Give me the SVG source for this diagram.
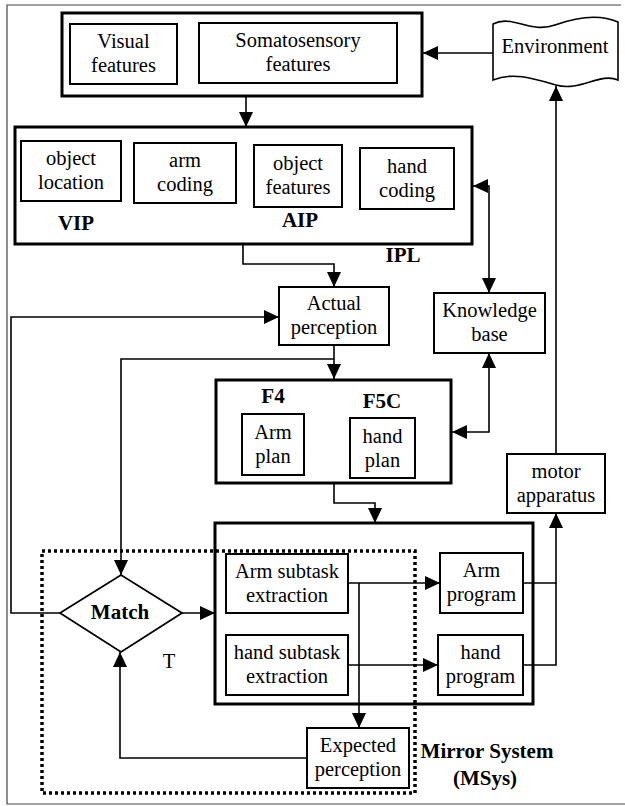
<svg xmlns="http://www.w3.org/2000/svg" width="625" height="806" viewBox="0 0 625 806">
<style>
text{font-family:"Liberation Serif","Times New Roman",serif;font-size:20.5px;fill:#000;text-anchor:middle}
.b{font-weight:bold;font-size:21px}
.thick{fill:#fff;stroke:#000;stroke-width:3}
.box{fill:#fff;stroke:#000;stroke-width:2}
.ln{fill:none;stroke:#000;stroke-width:1.6}
</style>
<defs>
<marker id="ah" markerUnits="userSpaceOnUse" markerWidth="15" markerHeight="14" refX="15" refY="7" orient="auto-start-reverse" viewBox="0 0 15 14">
<path d="M0,0 L15,7 L0,14 z" fill="#000"/>
</marker>
</defs>
<rect width="625" height="806" fill="#fff"/>
<path d="M621,5 H7 V804 H625" fill="none" stroke="#444" stroke-width="1.2"/>

<g id="connectors">
<path class="ln" d="M493,53 H423" marker-end="url(#ah)"/>
<path class="ln" d="M246,96 V127" marker-end="url(#ah)"/>
<path class="ln" d="M556,454 V86" marker-end="url(#ah)"/>
<path class="ln" d="M243,244 V264 H334 V287" marker-end="url(#ah)"/>
<path class="ln" d="M473,186 H489 V293" marker-start="url(#ah)" marker-end="url(#ah)"/>
<path class="ln" d="M60,613 H11 V317 H279" marker-end="url(#ah)"/>
<path class="ln" d="M334,345 V379" marker-end="url(#ah)"/>
<path class="ln" d="M334,359 H121 V575" marker-end="url(#ah)"/>
<path class="ln" d="M489,353 V432 H452" marker-start="url(#ah)" marker-end="url(#ah)"/>
<path class="ln" d="M334,483 V503 H375 V523" marker-end="url(#ah)"/>
<path class="ln" d="M182,613 H215" marker-end="url(#ah)"/>
<path class="ln" d="M348,583 H440" marker-end="url(#ah)"/>
<path class="ln" d="M348,665 H438" marker-end="url(#ah)"/>
<path class="ln" d="M359,583 V728" marker-end="url(#ah)"/>
<path class="ln" d="M523,583 H556 V513" marker-end="url(#ah)"/>
<path class="ln" d="M523,665 H556 V583"/>
<path class="ln" d="M307,758 H120 V652" marker-end="url(#ah)"/>
</g>

<g id="environment">
<path d="M493,24 C512,14 530,34 555,25 S600,14 618,22 V80 C600,72 580,92 556,85 S512,72 493,80 Z" fill="#fff" stroke="#000" stroke-width="1.6"/>
<text x="555" y="53">Environment</text>
</g>

<g id="sensory">
<rect class="thick" x="62" y="13" width="360" height="83"/>
<g id="visual-features">
<rect class="box" x="70" y="24" width="107" height="60"/>
<text x="123.5" y="48">Visual</text>
<text x="123.5" y="72">features</text>
</g>
<g id="somatosensory-features">
<rect class="box" x="199" y="23" width="198" height="60"/>
<text x="298" y="47">Somatosensory</text>
<text x="298" y="71">features</text>
</g>
</g>

<g id="ipl">
<rect class="thick" x="15" y="127" width="457" height="117"/>
<g id="object-location">
<rect class="box" x="21" y="141" width="100" height="60"/>
<text x="71" y="165">object</text>
<text x="71" y="189">location</text>
</g>
<g id="arm-coding">
<rect class="box" x="134" y="143" width="102" height="60"/>
<text x="185" y="167">arm</text>
<text x="185" y="191">coding</text>
</g>
<g id="object-features">
<rect class="box" x="254" y="145" width="88" height="62"/>
<text x="298" y="170">object</text>
<text x="298" y="194">features</text>
</g>
<g id="hand-coding">
<rect class="box" x="360" y="148" width="94" height="61"/>
<text x="407" y="172.5">hand</text>
<text x="407" y="196.5">coding</text>
</g>
<text class="b" x="76" y="230">VIP</text>
<text class="b" x="300" y="227">AIP</text>
<text class="b" x="403" y="262">IPL</text>
</g>

<g id="actual-perception">
<rect class="box" x="279" y="287" width="110" height="58"/>
<text x="334" y="310">Actual</text>
<text x="334" y="334">perception</text>
</g>

<g id="knowledge-base">
<rect class="box" x="434" y="293" width="111" height="60"/>
<text x="489.5" y="317">Knowledge</text>
<text x="489.5" y="341">base</text>
</g>

<g id="premotor">
<rect class="thick" x="216" y="380" width="235" height="103"/>
<text class="b" x="273" y="403">F4</text>
<text class="b" x="382" y="408">F5C</text>
<g id="arm-plan">
<rect class="box" x="242" y="414" width="62" height="61"/>
<text x="273" y="438.5">Arm</text>
<text x="273" y="462.5">plan</text>
</g>
<g id="hand-plan">
<rect class="box" x="350" y="418" width="65" height="60"/>
<text x="382.5" y="443">hand</text>
<text x="382.5" y="467">plan</text>
</g>
</g>

<g id="motor-apparatus">
<rect class="box" x="507" y="454" width="98" height="59"/>
<text x="556" y="477.5">motor</text>
<text x="556" y="501.5">apparatus</text>
</g>

<g id="mirror-system-dotted">
<rect x="42" y="551" width="373" height="242" fill="none" stroke="#000" stroke-width="3.5" stroke-dasharray="3 3"/>
<text class="b" x="487" y="758">Mirror System</text>
<text class="b" x="485" y="785">(MSys)</text>
</g>

<g id="msys">
<rect x="215" y="523" width="318" height="181" fill="none" stroke="#000" stroke-width="3"/>
<g id="arm-subtask">
<rect class="box" x="226" y="554" width="122" height="59"/>
<text x="287" y="577.5">Arm subtask</text>
<text x="287" y="601.5">extraction</text>
</g>
<g id="arm-program">
<rect class="box" x="440" y="553" width="83" height="60"/>
<text x="481.5" y="577">Arm</text>
<text x="481.5" y="601">program</text>
</g>
<g id="hand-subtask">
<rect class="box" x="226" y="635" width="122" height="60"/>
<text x="287" y="659">hand subtask</text>
<text x="287" y="683">extraction</text>
</g>
<g id="hand-program">
<rect class="box" x="438" y="635" width="85" height="60"/>
<text x="480.5" y="659">hand</text>
<text x="480.5" y="683">program</text>
</g>
</g>

<g id="match">
<path d="M60,613 L121,575 L182,613 L121,652 Z" fill="#fff" stroke="#000" stroke-width="1.8"/>
<text class="b" x="120" y="619">Match</text>
<text x="169" y="668">T</text>
</g>

<g id="expected-perception">
<rect class="box" x="307" y="728" width="102" height="60"/>
<text x="358" y="752">Expected</text>
<text x="358" y="776">perception</text>
</g>
</svg>
